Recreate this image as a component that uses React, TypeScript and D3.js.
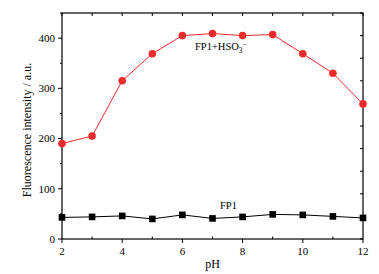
import React from "react";
import * as d3 from "d3";

const pH = [2, 3, 4, 5, 6, 7, 8, 9, 10, 11, 12];
const fp1Hso3 = [190, 205, 315, 369, 405, 409, 405, 407, 369, 330, 269];
const fp1 = [43, 44, 46, 40, 48, 41, 44, 49, 48, 45, 42];
const xMajorTicks = [2, 4, 6, 8, 10, 12];
const xMinorTicks = [3, 5, 7, 9, 11];
const yMajorTicks = [0, 100, 200, 300, 400];
const yMinorTicks = [50, 150, 250, 350, 450];
const rightTicks = d3.range(0, 451, 45);
const topTicks = d3.range(2, 13, 1);

const W = 379, H = 274;
const M = { left: 62, right: 363, top: 13, bottom: 239 };
const font = "'Liberation Serif', 'Times New Roman', serif";

export default function App() {
  const x = d3.scaleLinear().domain([2, 12]).range([M.left, M.right]);
  const y = d3.scaleLinear().domain([0, 450]).range([M.bottom, M.top]);
  const line = d3.line<number>().x((_, i) => x(pH[i])).y((d) => y(d));
  const red = "#ee2a2a";
  return (
    <svg width={W} height={H} style={{ position: "absolute", left: 0, top: 0, background: "#fff" }}>
      <rect x={0} y={0} width={W} height={H} fill="#fff" />
      <rect x={M.left} y={M.top} width={M.right - M.left} height={M.bottom - M.top} fill="none" stroke="#000" strokeWidth={1.2} />
      {xMajorTicks.map((t) => (
        <g key={"xb" + t}>
          <line x1={x(t)} x2={x(t)} y1={M.bottom} y2={M.bottom + 4} stroke="#000" />
          <text x={x(t)} y={M.bottom + 16} fontSize={11} fontFamily={font} textAnchor="middle">{t}</text>
        </g>
      ))}
      {xMinorTicks.map((t) => (
        <line key={"xm" + t} x1={x(t)} x2={x(t)} y1={M.bottom} y2={M.bottom - 2.5} stroke="#000" />
      ))}
      {topTicks.map((t) => (
        <line key={"xt" + t} x1={x(t)} x2={x(t)} y1={M.top} y2={M.top + 3} stroke="#000" />
      ))}
      {yMajorTicks.map((t) => (
        <g key={"yl" + t}>
          <line x1={M.left - 4} x2={M.left} y1={y(t)} y2={y(t)} stroke="#000" />
          <text x={M.left - 7} y={y(t) + 3.8} fontSize={11} fontFamily={font} textAnchor="end">{t}</text>
        </g>
      ))}
      {yMinorTicks.map((t) => (
        <line key={"ym" + t} x1={M.left - 2} x2={M.left} y1={y(t)} y2={y(t)} stroke="#000" />
      ))}
      {rightTicks.map((t) => (
        <line key={"yr" + t} x1={M.right - 3} x2={M.right} y1={y(t)} y2={y(t)} stroke="#000" />
      ))}
      <path d={line(fp1Hso3) || ""} fill="none" stroke={red} strokeWidth={1} />
      {fp1Hso3.map((v, i) => (
        <circle key={"r" + i} cx={x(pH[i])} cy={y(v)} r={3.8} fill={red} />
      ))}
      <path d={line(fp1) || ""} fill="none" stroke="#000" strokeWidth={1} />
      {fp1.map((v, i) => (
        <rect key={"b" + i} x={x(pH[i]) - 3.3} y={y(v) - 3.3} width={6.6} height={6.6} fill="#000" />
      ))}
      <text x={195} y={50} fontSize={10.5} fontFamily={font}>
        FP1+HSO<tspan fontSize={7.5} dy={2.5}>3</tspan><tspan fontSize={7.5} dy={-6}>−</tspan>
      </text>
      <text x={220} y={209} fontSize={10.5} fontFamily={font}>FP1</text>
      <text x={(M.left + M.right) / 2} y={268} fontSize={12} fontFamily={font} textAnchor="middle">pH</text>
      <text transform={`translate(31,130) rotate(-90)`} fontSize={12} fontFamily={font} textAnchor="middle">Fluorescence intensity / a.u.</text>
    </svg>
  );
}
